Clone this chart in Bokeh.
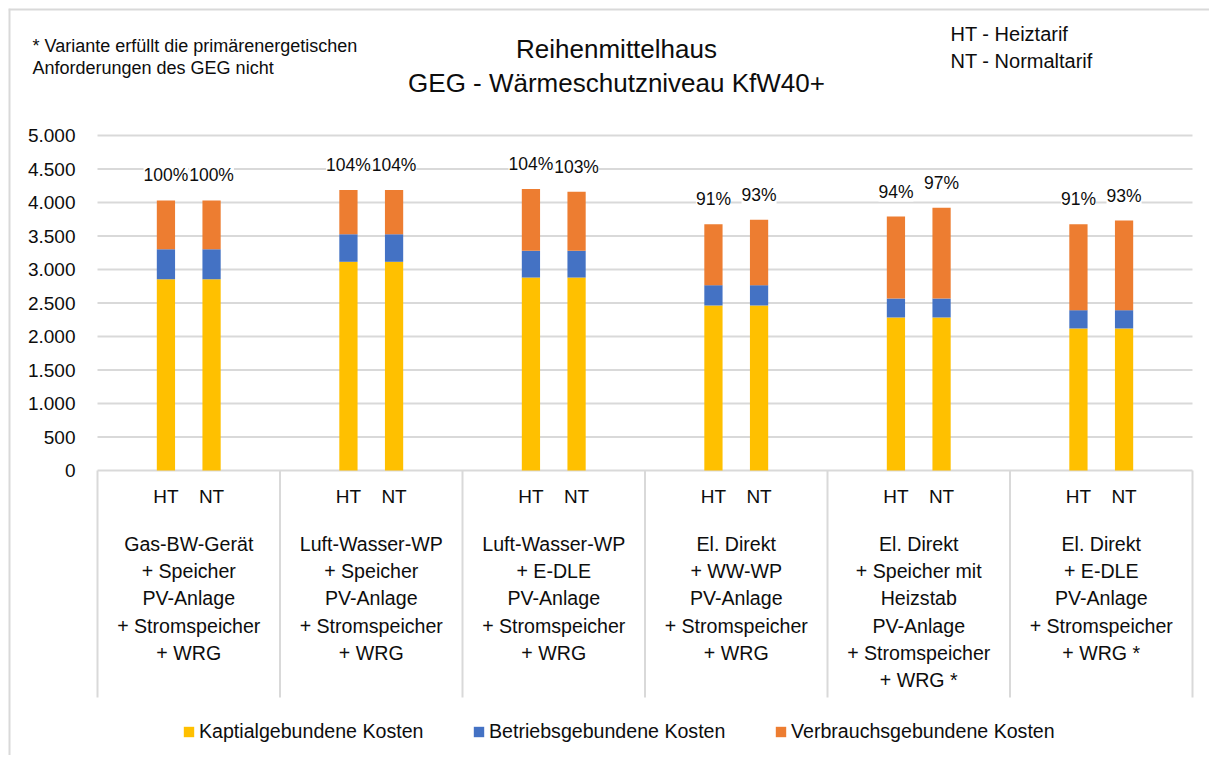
import numpy as np
from bokeh.plotting import figure
from bokeh.models import ColumnDataSource, Range1d, LabelSet, Legend, LegendItem
from bokeh.core.properties import value
from bokeh.embed import file_html
from bokeh.resources import INLINE

# ---------------- data ----------------
groups = [
    "Gas-BW-Gerät\n+ Speicher\nPV-Anlage\n+ Stromspeicher\n+ WRG",
    "Luft-Wasser-WP\n+ Speicher\nPV-Anlage\n+ Stromspeicher\n+ WRG",
    "Luft-Wasser-WP\n+ E-DLE\nPV-Anlage\n+ Stromspeicher\n+ WRG",
    "El. Direkt\n+ WW-WP\nPV-Anlage\n+ Stromspeicher\n+ WRG",
    "El. Direkt\n+ Speicher mit\nHeizstab\nPV-Anlage\n+ Stromspeicher\n+ WRG *",
    "El. Direkt\n+ E-DLE\nPV-Anlage\n+ Stromspeicher\n+ WRG *",
]
tariffs = ["HT", "NT"]

kapital_ht = [2855, 3115, 2880, 2463, 2284, 2120]
kapital_nt = [2855, 3115, 2880, 2463, 2284, 2120]
betrieb_ht = [448, 410, 400, 303, 283, 273]
betrieb_nt = [448, 410, 400, 303, 283, 273]
verbrauch_ht = [727, 660, 920, 911, 1224, 1284]
verbrauch_nt = [727, 660, 880, 975, 1353, 1338]
anteil_ht = ["100%", "104%", "104%", "91%", "94%", "91%"]
anteil_nt = ["100%", "104%", "103%", "93%", "97%", "93%"]

series_names = ["Kaptialgebundene Kosten", "Betriebsgebundene Kosten", "Verbrauchsgebundene Kosten"]
series_colors = ["#FFC000", "#4472C4", "#ED7D31"]

y_ticks = [0, 500, 1000, 1500, 2000, 2500, 3000, 3500, 4000, 4500, 5000]
y_tick_labels = ["0", "500", "1.000", "1.500", "2.000", "2.500", "3.000", "3.500",
                 "4.000", "4.500", "5.000"]

title_lines = ["Reihenmittelhaus", "GEG - Wärmeschutzniveau KfW40+"]
note_lines = ["* Variante erfüllt die primärenergetischen", "Anforderungen des GEG nicht"]
tarif_lines = ["HT - Heiztarif", "NT - Normaltarif"]

# ---------------- layout constants (pixels) ----------------
W, H = 1201, 747
PLOT_L, PLOT_R = 89, 1184     # left / right edge of the category area
TOP_TICK_PX, ZERO_PX = 127, 462
Y_MAX = 5000
n = len(groups)
GPX = (PLOT_R - PLOT_L) / n                  # px per group
PPU = (ZERO_PX - TOP_TICK_PX) / Y_MAX        # px per value unit
x_start = -0.5 - PLOT_L / GPX
x_end = n - 0.5 + (W - PLOT_R) / GPX
y_end = Y_MAX + TOP_TICK_PX / PPU
y_start = -(H - ZERO_PX) / PPU

FONT = "Liberation Sans"
TXT = "#0d0d0d"
GRID = "#d9d9d9"
OFFS = {"HT": -0.125, "NT": 0.125}
BAR_W = 0.1

# ---------------- sources ----------------
rows = dict(x=[], tariff=[], kap=[], betr=[], verb=[], total=[], pct=[])
vals = {"HT": (kapital_ht, betrieb_ht, verbrauch_ht, anteil_ht),
        "NT": (kapital_nt, betrieb_nt, verbrauch_nt, anteil_nt)}
for i in range(n):
    for t in tariffs:
        k, b, v, a = vals[t]
        rows["x"].append(i + OFFS[t])
        rows["tariff"].append(t)
        rows["kap"].append(k[i])
        rows["betr"].append(b[i])
        rows["verb"].append(v[i])
        rows["total"].append(k[i] + b[i] + v[i])
        rows["pct"].append(a[i])
src = ColumnDataSource(rows)
gsrc = ColumnDataSource(dict(x=list(range(n)), text=groups))
dividers = [i - 0.5 for i in range(n + 1)]

# ---------------- figure ----------------
p = figure(width=W, height=H, output_backend="svg", toolbar_location=None,
           x_range=Range1d(x_start, x_end), y_range=Range1d(y_start, y_end),
           x_axis_location=None, y_axis_location=None, min_border=0)
p.styles = {"margin-left": "8px", "margin-top": "8px"}
p.outline_line_color = None
p.grid.visible = False

# chart border (left and top)
p.segment(x0=[x_start, x_start], y0=[y_start, y_end], x1=[x_start, x_end], y1=[y_end, y_end],
          line_color=GRID, line_width=4)

# horizontal grid lines and value labels
p.segment(x0=-0.5, x1=n - 0.5, y0=y_ticks, y1=y_ticks, line_color=GRID, line_width=2)
p.text(x=-0.5, y=y_ticks, text=y_tick_labels, x_offset=-22, text_align="right",
       text_baseline="middle", text_font=value(FONT), text_font_size="19px", text_color=TXT)

# stacked bars
rs = p.vbar_stack(["kap", "betr", "verb"], x="x", width=BAR_W, color=series_colors,
                  line_color=None, source=src)

# dividers of the category axis
p.ray(x=dividers, y=0, length=227, length_units="screen", angle=-np.pi / 2,
      line_color=GRID, line_width=2)

# HT / NT labels
p.text(x="x", y=0, text="tariff", source=src, y_offset=26, text_align="center",
       text_baseline="middle", text_font=value(FONT), text_font_size="19px", text_color=TXT)

# group labels
p.text(x="x", y=0, text="text", source=gsrc, y_offset=62, text_align="center",
       text_baseline="top", text_font=value(FONT), text_font_size="19.6px",
       text_line_height=1.245, text_color=TXT)

# percent labels
p.add_layout(LabelSet(x="x", y="total", text="pct", source=src, y_offset=25,
                      text_align="center", text_baseline="middle", text_font=value(FONT),
                      text_font_size="17.5px", text_color=TXT,
                      background_fill_color="white"))

# header texts, anchored at the top-left corner and offset in pixels
p.text(x=x_start, y=y_end, text=title_lines, x_offset=608, y_offset=[40.5, 74],
       text_align="center", text_baseline="middle", text_font=value(FONT),
       text_font_size="26px", text_color=TXT)
p.text(x=x_start, y=y_end, text=note_lines, x_offset=24, y_offset=[37, 59.5],
       text_align="left", text_baseline="middle", text_font=value(FONT),
       text_font_size="18px", text_color=TXT)
p.text(x=x_start, y=y_end, text=tarif_lines, x_offset=942, y_offset=[25, 52],
       text_align="left", text_baseline="middle", text_font=value(FONT),
       text_font_size="20px", text_color=TXT)

# legends: one per series
leg_x = [174, 464, 766]
for r, name, lx in zip(rs, series_names, leg_x):
    lg = Legend(items=[LegendItem(label=name, renderers=[r])], location=(lx, 12),
                orientation="horizontal", padding=0, margin=0, border_line_color=None,
                background_fill_alpha=0, glyph_width=13, glyph_height=13, label_standoff=4,
                label_text_font=FONT, label_text_font_size="19.6px", label_text_color=TXT,
                label_height=20)
    p.add_layout(lg, "center")

open("out.html", "w").write(file_html(p, INLINE))
